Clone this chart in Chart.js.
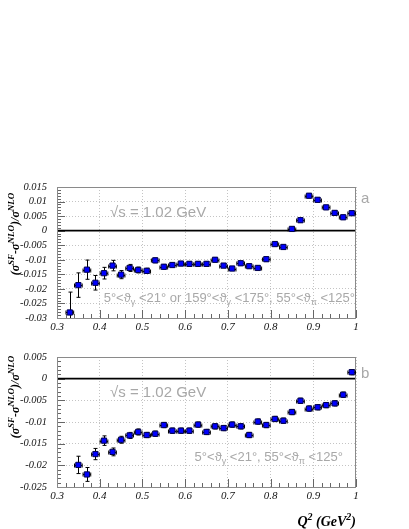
<!DOCTYPE html>
<html>
<head>
<meta charset="utf-8">
<script src="https://cdn.jsdelivr.net/npm/chart.js@4.4.0/dist/chart.umd.min.js"></script>
<style>
html, body { margin: 0; padding: 0; background: #fff; }
#wrap { position: relative; width: 409px; height: 529px; overflow: hidden; }
canvas { position: absolute; left: 0; }
</style>
</head>
<body>
<div id="wrap">
	<canvas id="panel_a" width="409" height="340" style="top:0px"></canvas>
	<canvas id="panel_b" width="409" height="189" style="top:340px"></canvas>
</div>
<script>
// Q^2 bin centres (GeV^2)
const q2_a = [0.33, 0.35, 0.37, 0.39, 0.41, 0.43, 0.45, 0.47, 0.49, 0.51,
	0.53, 0.55, 0.57, 0.59, 0.61, 0.63, 0.65, 0.67, 0.69, 0.71,
	0.73, 0.75, 0.77, 0.79, 0.81, 0.83, 0.85, 0.87, 0.89, 0.91,
	0.93, 0.95, 0.97, 0.99];
const ratio_a = [-0.0281, -0.0187, -0.0134, -0.0179, -0.0146, -0.0120, -0.0151, -0.0128, -0.0135, -0.0138,
	-0.0102, -0.0124, -0.0118, -0.0113, -0.0114, -0.0114, -0.0114, -0.0100, -0.0120, -0.0130,
	-0.0112, -0.0122, -0.0128, -0.0098, -0.0046, -0.0056, 0.0006, 0.0036, 0.0120, 0.0106,
	0.0080, 0.0061, 0.0046, 0.0060];
const err_a = [0.0070, 0.0042, 0.0033, 0.0025, 0.0020, 0.0018, 0.0014, 0.0012, 0.0010, 0.0009,
	0.0008, 0.0008, 0.0007, 0.0007, 0.0007, 0.0007, 0.0007, 0.0007, 0.0007, 0.0007,
	0.0007, 0.0007, 0.0007, 0.0007, 0.0007, 0.0007, 0.0007, 0.0007, 0.0007, 0.0007,
	0.0007, 0.0007, 0.0007, 0.0007];

const q2_b = [0.35, 0.37, 0.39, 0.41, 0.43, 0.45, 0.47, 0.49, 0.51, 0.53,
	0.55, 0.57, 0.59, 0.61, 0.63, 0.65, 0.67, 0.69, 0.71, 0.73,
	0.75, 0.77, 0.79, 0.81, 0.83, 0.85, 0.87, 0.89, 0.91, 0.93,
	0.95, 0.97, 0.99];
const ratio_b = [-0.0199, -0.0221, -0.0174, -0.0143, -0.0169, -0.0141, -0.0131, -0.0123, -0.0130, -0.0127,
	-0.0107, -0.0120, -0.0120, -0.0120, -0.0106, -0.0123, -0.0110, -0.0114, -0.0106, -0.0110,
	-0.0130, -0.0099, -0.0107, -0.0093, -0.0097, -0.0077, -0.0051, -0.0069, -0.0066, -0.0061,
	-0.0057, -0.0037, 0.0015];
const err_b = [0.0020, 0.0016, 0.0013, 0.0011, 0.0009, 0.0008, 0.0007, 0.0007, 0.0006, 0.0006,
	0.0006, 0.0006, 0.0006, 0.0006, 0.0006, 0.0006, 0.0006, 0.0006, 0.0006, 0.0006,
	0.0006, 0.0006, 0.0006, 0.0006, 0.0006, 0.0006, 0.0006, 0.0006, 0.0006, 0.0006,
	0.0006, 0.0006, 0.0006];

const half_bin = 0.009;

const yTitle = [["(σ", "n"], ["SF", "sup"], ["-σ", "n"], ["NLO", "sup"], [")/σ", "n"], ["NLO", "sup"]];
const cut_a = [["5°<ϑ", "n"], ["γ", "sub"], [" <21° or 159°<ϑ", "n"], ["γ", "sub"], [" <175°, 55°<ϑ", "n"], ["π", "sub"], [" <125°", "n"]];
const cut_b = [["5°<ϑ", "n"], ["γ", "sub"], [" <21°, 55°<ϑ", "n"], ["π", "sub"], [" <125°", "n"]];
const xTitle = [["Q", "n"], ["2", "sup"], [" (GeV", "n"], ["2", "sup"], [")", "n"]];

const GREY = "#a8a8a8";
const SERIF = "'Liberation Serif', 'Times New Roman', serif";
const SANS = "'Liberation Sans', Arial, sans-serif";

function drawRich(ctx, parts, x, y, size, font, color, align) {
	const fontFor = (k, base) => base.replace("SIZE", (k === "n" ? size : Math.round(size * 0.72)) + "px");
	let w = 0;
	parts.forEach(([t, k]) => { ctx.font = fontFor(k, font); w += ctx.measureText(t).width; });
	let cx = align === "center" ? x - w / 2 : align === "right" ? x - w : x;
	ctx.fillStyle = color;
	ctx.textAlign = "left";
	ctx.textBaseline = "alphabetic";
	parts.forEach(([t, k]) => {
		ctx.font = fontFor(k, font);
		const dy = k === "sup" ? -size * 0.42 : k === "sub" ? size * 0.25 : 0;
		ctx.fillText(t, cx, y + dy);
		cx += ctx.measureText(t).width;
	});
}

// zero line, minor ticks and frame
const frame = {
	id: "frame",
	beforeDatasetsDraw(chart) {
		const { ctx, chartArea: a, scales: { x, y } } = chart;
		ctx.save();
		ctx.strokeStyle = "#666";
		ctx.lineWidth = 1;
		ctx.beginPath();
		for (let v = Math.round(y.min * 1000); v <= Math.round(y.max * 1000); v++) {
			const py = Math.round(y.getPixelForValue(v / 1000)) + 0.5;
			const len = v % 5 === 0 ? 8 : 4;
			ctx.moveTo(a.left, py);
			ctx.lineTo(a.left + len, py);
		}
		for (let v = Math.round(x.min * 100); v <= Math.round(x.max * 100); v += 2) {
			const px = Math.round(x.getPixelForValue(v / 100)) + 0.5;
			const len = v % 10 === 0 ? 8 : 4;
			ctx.moveTo(px, a.bottom);
			ctx.lineTo(px, a.bottom - len);
		}
		ctx.stroke();
		ctx.strokeStyle = "#000";
		ctx.lineWidth = 1.6;
		const y0 = y.getPixelForValue(0);
		ctx.beginPath();
		ctx.moveTo(a.left, y0);
		ctx.lineTo(a.right, y0);
		ctx.stroke();
		ctx.strokeStyle = "#8a8a8a";
		ctx.lineWidth = 1;
		ctx.strokeRect(a.left + 0.5, a.top + 0.5, a.right - a.left - 1, a.bottom - a.top);
		ctx.restore();
	},
};

const errorBars = {
	id: "errorBars",
	beforeDatasetsDraw(chart, args, opts) {
		const { ctx, chartArea: a, scales: { x, y } } = chart;
		ctx.save();
		ctx.beginPath();
		ctx.rect(a.left, a.top, a.right - a.left, a.bottom - a.top);
		ctx.clip();
		ctx.strokeStyle = "#000";
		ctx.lineWidth = 1;
		opts.q.forEach((q, i) => {
			const v = opts.v[i], e = opts.e[i];
			const px = Math.round(x.getPixelForValue(q)) + 0.5;
			const py = Math.round(y.getPixelForValue(v)) + 0.5;
			const x0 = x.getPixelForValue(q - opts.dq), x1 = x.getPixelForValue(q + opts.dq);
			const y0 = y.getPixelForValue(v - e), y1 = y.getPixelForValue(v + e);
			ctx.beginPath();
			ctx.moveTo(x0, py); ctx.lineTo(x1, py);
			ctx.moveTo(x0, py - 2); ctx.lineTo(x0, py + 2);
			ctx.moveTo(x1, py - 2); ctx.lineTo(x1, py + 2);
			ctx.moveTo(px, y0); ctx.lineTo(px, y1);
			ctx.moveTo(px - 2, y0); ctx.lineTo(px + 2, y0);
			ctx.moveTo(px - 2, y1); ctx.lineTo(px + 2, y1);
			ctx.stroke();
		});
		ctx.restore();
	},
};

const texts = {
	id: "texts",
	afterDraw(chart, args, opts) {
		const { ctx, chartArea: a } = chart;
		ctx.save();
		ctx.font = "15px " + SANS;
		ctx.fillStyle = GREY;
		ctx.textAlign = "left";
		ctx.textBaseline = "alphabetic";
		ctx.fillText("√s = 1.02 GeV", a.left + 53, a.top + opts.rootsY);
		ctx.fillText(opts.tag, a.right + 5, a.top + opts.tagY);
		drawRich(ctx, opts.cut, a.right - opts.cutRight, a.top + opts.cutY, 13, "SIZE " + SANS, GREY, "right");
		ctx.save();
		ctx.translate(19, opts.titleY);
		ctx.rotate(-Math.PI / 2);
		drawRich(ctx, yTitle, 0, 0, 12, "italic bold SIZE " + SERIF, "#000", "center");
		ctx.restore();
		if (opts.xTitle) {
			drawRich(ctx, xTitle, a.right, chart.height - 3, 14, "italic bold SIZE " + SERIF, "#000", "right");
		}
		ctx.restore();
	},
};

function makePanel(id, q, v, e, ymin, ymax, pad, xHeight, textOpts) {
	return new Chart(document.getElementById(id), {
		type: "scatter",
		data: {
			datasets: [{
				data: q.map((qq, i) => ({ x: qq, y: v[i] })),
				pointStyle: "rect",
				pointRadius: 3.7,
				backgroundColor: "#0000ff",
				borderColor: "#000050",
				borderWidth: 1,
			}],
		},
		options: {
			responsive: false,
			animation: false,
			layout: { padding: pad },
			plugins: {
				legend: { display: false },
				tooltip: { enabled: false },
				errorBars: { q: q, v: v, e: e, dq: half_bin },
				texts: textOpts,
			},
			scales: {
				x: {
					type: "linear",
					min: 0.3,
					max: 1.0,
					afterFit(scale) { scale.height = xHeight; },
					ticks: {
						stepSize: 0.1,
						autoSkip: false,
						maxRotation: 0,
						padding: 3,
						color: "#111",
						font: { family: SERIF, style: "italic", size: 11 },
						callback: (val) => parseFloat(val.toFixed(2)).toString(),
					},
					grid: { color: "#c4c4c4", drawTicks: false },
					border: { display: false, dash: [1, 2] },
				},
				y: {
					min: ymin,
					max: ymax,
					afterFit(scale) { scale.width = 57; },
					ticks: {
						stepSize: 0.005,
						autoSkip: false,
						padding: 10,
						color: "#111",
						font: { family: SERIF, style: "italic", size: 10.5 },
						callback: (val) => parseFloat(val.toFixed(3)).toString(),
					},
					grid: { color: "#c4c4c4", drawTicks: false },
					border: { display: false, dash: [1, 2] },
				},
			},
		},
		plugins: [frame, errorBars, texts],
	});
}

makePanel("panel_a", q2_a, ratio_a, err_a, -0.03, 0.015,
	{ top: 187, right: 53, bottom: 0, left: 0 }, 22,
	{ tag: "a", tagY: 16, rootsY: 30, cut: cut_a, cutY: 115, cutRight: 1, titleY: 234, xTitle: false });

makePanel("panel_b", q2_b, ratio_b, err_b, -0.025, 0.005,
	{ top: 17, right: 53, bottom: 0, left: 0 }, 42,
	{ tag: "b", tagY: 21, rootsY: 40, cut: cut_b, cutY: 104, cutRight: 13, titleY: 57, xTitle: true });
</script>
</body>
</html>
